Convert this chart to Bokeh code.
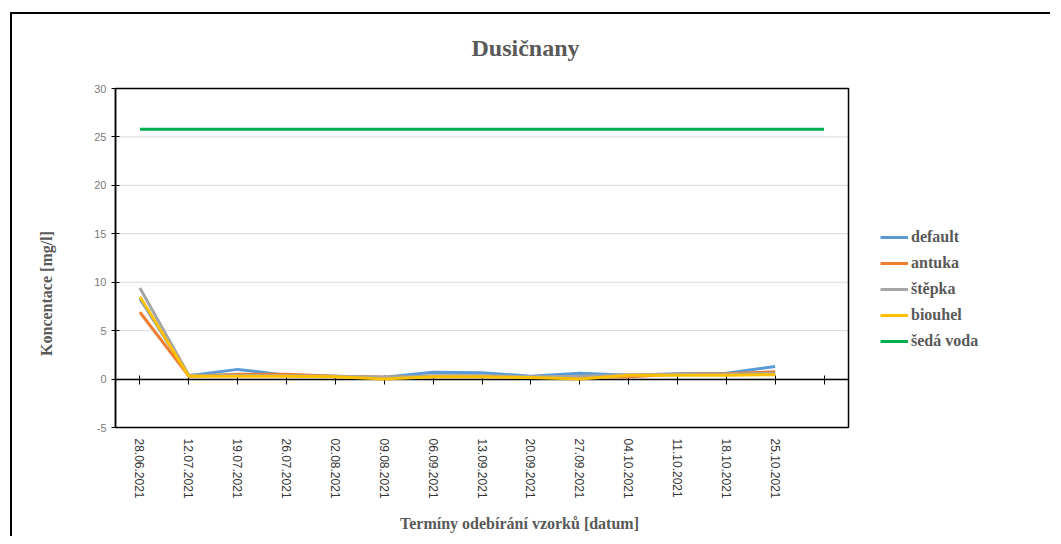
import math
from bokeh.plotting import figure
from bokeh.models import (LinearAxis, FixedTicker, Legend, LegendItem, Label,
                          Range1d, ColumnDataSource)
from bokeh.embed import file_html
from bokeh.resources import INLINE

# ---- data ----
dates = ["28.06.2021", "12.07.2021", "19.07.2021", "26.07.2021", "02.08.2021",
         "09.08.2021", "06.09.2021", "13.09.2021", "20.09.2021", "27.09.2021",
         "04.10.2021", "11.10.2021", "18.10.2021", "25.10.2021"]
default = [8.3, 0.35, 1.0, 0.4, 0.3, 0.2, 0.7, 0.65, 0.3, 0.6, 0.4, 0.55, 0.6, 1.3]
antuka = [6.9, 0.3, 0.5, 0.5, 0.3, 0.2, 0.3, 0.3, 0.2, 0.2, 0.25, 0.5, 0.55, 0.75]
stepka = [9.4, 0.4, 0.4, 0.35, 0.3, 0.2, 0.35, 0.35, 0.25, 0.3, 0.45, 0.5, 0.5, 0.6]
biouhel = [8.5, 0.3, 0.3, 0.3, 0.25, 0.0, 0.25, 0.25, 0.15, 0.0, 0.4, 0.4, 0.4, 0.45]
seda_voda = [25.8, 25.8, 25.8, 25.8, 25.8, 25.8, 25.8, 25.8, 25.8, 25.8, 25.8,
             25.8, 25.8, 25.8, 25.8]
n_cat = 15  # 14 dates + one empty category
y_ticks = [-5, 0, 5, 10, 15, 20, 25, 30]

series = [
    ("default", default, "#5b9bd5"),
    ("antuka", antuka, "#ed7d31"),
    ("štěpka", stepka, "#a5a5a5"),
    ("biouhel", biouhel, "#ffc000"),
    ("šedá voda", seda_voda, "#00b050"),
]

SERIF = "Liberation Serif"
GREY_TXT = "#595959"

# ---- layout (pixels inside the canvas) ----
W, H = 1040, 524
PL, PR, PT, PB = 103, 836, 74, 413          # plot-area box
x_lo, x_hi = -0.5, n_cat - 0.5
y_lo, y_hi = y_ticks[0], y_ticks[-1]
kx = (PR - PL) / (x_hi - x_lo)
ky = (PB - PT) / (y_hi - y_lo)
x_range = Range1d(x_lo - PL / kx, x_hi + (W - PR) / kx)
y_range = Range1d(y_lo - (H - PB) / ky, y_hi + PT / ky)

p = figure(width=W, height=H, x_range=x_range, y_range=y_range,
           output_backend="svg", toolbar_location=None,
           x_axis_location=None, y_axis_location=None, title_location=None,
           min_border_left=0, min_border_right=0,
           min_border_top=0, min_border_bottom=0)
p.styles = {"border-top": "2px solid black", "border-left": "2px solid black"}
p.margin = (12, 0, 0, 10)
p.outline_line_color = None
p.background_fill_color = "white"
p.border_fill_color = "white"
p.grid.visible = False

# horizontal gridlines
grid_src = ColumnDataSource(dict(y=y_ticks[1:-1]))
p.segment(x0=x_lo, x1=x_hi, y0="y", y1="y", source=grid_src,
          line_color="#d9d9d9", line_width=1, level="underlay")

# y axis
yaxis = LinearAxis(fixed_location=x_lo, bounds=(y_lo, y_hi),
                   ticker=FixedTicker(ticks=y_ticks),
                   major_label_overrides={t: str(t) for t in y_ticks},
                   axis_line_color="black", axis_line_width=1.5,
                   major_tick_in=4, major_tick_out=4,
                   major_tick_line_color="black", minor_tick_line_color=None,
                   major_label_text_font="Liberation Sans",
                   major_label_text_font_size="11px",
                   major_label_text_color="#7a7a7a",
                   major_label_standoff=5)
p.add_layout(yaxis, "left")

# category labels under the plot area
overrides = {i: d for i, d in enumerate(dates)}
overrides[n_cat - 1] = ""
xaxis = LinearAxis(fixed_location=y_lo, bounds=(x_lo, x_hi),
                   ticker=FixedTicker(ticks=list(range(n_cat))),
                   major_label_overrides=overrides,
                   major_label_orientation="vertical",
                   axis_line_color=None, major_tick_line_color=None,
                   minor_tick_line_color=None,
                   major_label_text_font="Liberation Sans",
                   major_label_text_font_size="12px",
                   major_label_text_color="#333333",
                   major_label_standoff=5)
p.add_layout(xaxis, "below")

# zero-crossing axis with ticks
zero_axis = LinearAxis(fixed_location=0, bounds=(x_lo, x_hi),
                       ticker=FixedTicker(ticks=list(range(n_cat))),
                       major_label_overrides={i: "" for i in range(n_cat)},
                       axis_line_color="black", axis_line_width=1.5,
                       major_tick_in=4, major_tick_out=5,
                       major_tick_line_color="black",
                       minor_tick_line_color=None, level="underlay")
p.add_layout(zero_axis, "below")

# plot-area border
p.quad(left=[x_lo], right=[x_hi], bottom=[y_lo], top=[y_hi],
       fill_color=None, line_color="black", line_width=1.5, level="underlay")

# lines
items = []
for name, vals, color in series:
    src = ColumnDataSource(dict(x=list(range(len(vals))), y=vals))
    r = p.line("x", "y", source=src, line_color=color, line_width=3)
    items.append(LegendItem(label=name, renderers=[r]))

legend = Legend(items=items, location=(868, 187), orientation="vertical",
                label_text_font=SERIF, label_text_font_size="16px",
                label_text_font_style="bold", label_text_color=GREY_TXT,
                glyph_width=28, glyph_height=20, label_height=20,
                label_standoff=3, spacing=6, padding=0, margin=0,
                border_line_color=None, background_fill_alpha=0)
p.add_layout(legend, "center")

# texts
p.add_layout(Label(x=513, y=H - 33, x_units="screen", y_units="screen",
                   text="Dusičnany", text_font=SERIF, text_font_size="24px",
                   text_font_style="bold", text_color=GREY_TXT,
                   text_align="center", text_baseline="middle"))
p.add_layout(Label(x=507, y=H - 509, x_units="screen", y_units="screen",
                   text="Termíny odebírání vzorků [datum]", text_font=SERIF,
                   text_font_size="16px", text_font_style="bold",
                   text_color=GREY_TXT, text_align="center",
                   text_baseline="middle"))
p.add_layout(Label(x=34, y=H - 279, x_units="screen", y_units="screen",
                   text="Koncentace [mg/l]", text_font=SERIF,
                   text_font_size="16px", text_font_style="bold",
                   text_color=GREY_TXT, text_align="center",
                   text_baseline="middle", angle=math.pi / 2))

open("out.html", "w").write(file_html(p, INLINE))
